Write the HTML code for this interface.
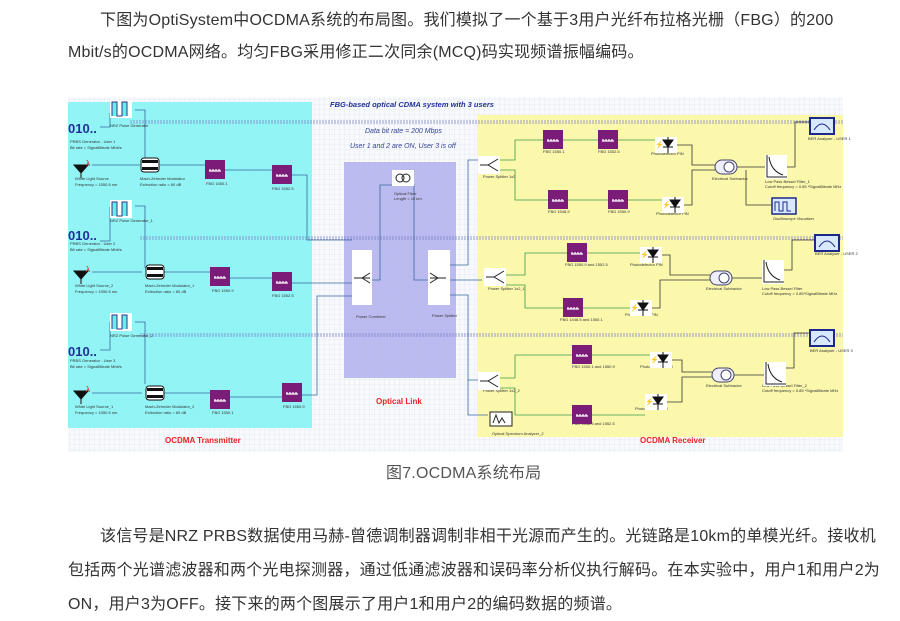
<!DOCTYPE html>
<html><head><meta charset="utf-8">
<style>
body{margin:0;width:900px;height:621px;background:#fff;font-family:"Liberation Sans","Noto Sans CJK SC",sans-serif;color:#333;position:relative;overflow:hidden}
.t{position:absolute;font-size:16px;white-space:nowrap;letter-spacing:0.2px}
svg{position:absolute;left:0;top:0}
</style></head><body>
<div class="t" style="left:100px;top:6px">下图为OptiSystem中OCDMA系统的布局图。我们模拟了一个基于3用户光纤布拉格光栅（FBG）的200</div>
<div class="t" style="left:68px;top:38px">Mbit/s的OCDMA网络。均匀FBG采用修正二次同余(MCQ)码实现频谱振幅编码。</div>
<div class="t" style="left:386px;top:459px;font-size:16px;color:#555">图7.OCDMA系统布局</div>
<div class="t" style="left:100px;top:522px">该信号是NRZ PRBS数据使用马赫-曾德调制器调制非相干光源而产生的。光链路是10km的单模光纤。接收机</div>
<div class="t" style="left:68px;top:556px">包括两个光谱滤波器和两个光电探测器，通过低通滤波器和误码率分析仪执行解码。在本实验中，用户1和用户2为</div>
<div class="t" style="left:68px;top:590px">ON，用户3为OFF。接下来的两个图展示了用户1和用户2的编码数据的频谱。</div>
<svg width="900" height="621" viewBox="0 0 900 621" font-family="Liberation Sans, sans-serif">
<defs>
<pattern id="g" width="5" height="5" patternUnits="userSpaceOnUse"><path d="M5 0V5H0" fill="none" stroke="#dde3ea" stroke-width="0.6"/></pattern>
<g id="fbg"><rect width="20" height="19" fill="#7a1c78"/><path d="M4 11h12M5 9v2M8 9v2M11 9v2M14 9v2" stroke="#fff" stroke-width="1.2"/></g>
<g id="pd"><rect width="22" height="16" fill="#fff"/><path d="M8 3h10l-5 7z M8 10h10 M13 0v16" fill="#111" stroke="#111"/><text x="0" y="10" font-size="7" fill="#d22">⚡</text></g>
<g id="sub"><rect width="22" height="14" rx="7" fill="#eef" stroke="#446"/><circle cx="14" cy="7" r="5" fill="#fff" stroke="#446"/></g>
<g id="lpf"><rect width="22" height="24" fill="#fff"/><path d="M2 0v22h20 M4 2q2 14 14 18" fill="none" stroke="#222"/></g>
<g id="ber"><rect width="24" height="16" fill="#d8e8ff" stroke="#1b2a8a" stroke-width="2"/><path d="M4 12q8-12 16 0" fill="none" stroke="#1b2a8a"/></g>
<g id="nrz"><rect width="22" height="18" fill="#fff"/><path d="M2 16V2h5v14h5V2h5v14" fill="#6ee" stroke="#338"/></g>
<g id="mzm"><rect width="18" height="14" rx="3" fill="#fff" stroke="#111"/><rect x="1" y="2" width="16" height="3" fill="#111"/><rect x="1" y="9" width="16" height="3" fill="#111"/></g>
<g id="src"><path d="M0 5h14l-7 8z M7 13v5" fill="#111" stroke="#111"/><text x="12" y="6" font-size="8" fill="#d22">λ</text></g>
</defs>
<rect x="68" y="97" width="775" height="355" fill="#f7f9fc"/>
<rect x="68" y="97" width="775" height="355" fill="url(#g)"/>
<rect x="68" y="102" width="244" height="326" fill="#80f3f3" opacity="0.85"/>
<rect x="344" y="162" width="112" height="216" fill="#b4b4ee" opacity="0.9"/>
<rect x="477" y="115" width="366" height="322" fill="#fbf8a8" opacity="0.95"/>
<g stroke="#7a7fc8" stroke-dasharray="2,1" stroke-width="0.8">
<line x1="130" y1="121" x2="843" y2="121"/><line x1="130" y1="123" x2="843" y2="123"/>
<line x1="140" y1="237" x2="843" y2="237"/><line x1="140" y1="239" x2="843" y2="239"/>
<line x1="140" y1="334" x2="843" y2="334"/><line x1="140" y1="336" x2="843" y2="336"/>
</g>
<text x="330" y="107" font-size="7.5" font-weight="bold" font-style="italic" fill="#22309a">FBG-based optical CDMA system with 3 users</text>
<text x="365" y="133" font-size="7" font-style="italic" fill="#33449a">Data bit rate = 200 Mbps</text>
<text x="350" y="148" font-size="7" font-style="italic" fill="#33449a">User 1 and 2 are ON, User 3 is off</text>
<text x="165" y="443" font-size="8" font-weight="bold" fill="#e22">OCDMA Transmitter</text>
<text x="376" y="404" font-size="8" font-weight="bold" fill="#e22">Optical Link</text>
<text x="640" y="443" font-size="8" font-weight="bold" fill="#e22">OCDMA Receiver</text>
<g fill="none" stroke="#3a6aa0" stroke-width="0.8">
<path d="M100 127h10V113M100 241h10V207M100 350h10V322"/>
<path d="M135 110h10v50M135 206h10v62M135 322h10v62"/>
<path d="M92 165h48M160 165h45M225 170h47M292 175h15v65h45"/>
<path d="M92 272h50M160 272h50M230 278h42M292 283h60"/>
<path d="M92 393h50M160 393h50M230 397h52M302 395h15V296h35"/>
<path d="M372 280h8v-95h22M402 185h12v95h14"/>
<path d="M450 265h18V160h12M450 280h32M450 295h18v85h12M468 380v35h20"/>
</g>
<g fill="none" stroke="#3c9a4a" stroke-width="0.8">
<path d="M500 160h15v-20h28M563 140h35M618 140h37M500 170h15v30h33M568 200h40M628 200h34"/>
<path d="M505 275h20v-22h42M587 253h53M505 285h20v23h38M583 308h47"/>
<path d="M500 378h15v-23h57M592 355h58M500 388h15v27h57M592 415h53"/>
</g>
<g fill="none" stroke="#333" stroke-width="0.8">
<path d="M677 145h15v20h23M684 205h8v-35h23M737 167h28M787 167h8v-45h15M746 170v35h29"/>
<path d="M662 255h8v20h40M652 308h8v-28h50M732 278h30M784 270h8v-30h23"/>
<path d="M672 360h10v12h30M667 402h15v-25h30M734 375h30M786 368h8v-35h16"/>
</g>
<g font-size="13" font-weight="bold" fill="#22309a"><text x="68" y="133">010..</text><text x="68" y="240">010..</text><text x="68" y="356">010..</text></g>
<use href="#nrz" x="110" y="100"/><use href="#nrz" x="110" y="200"/><use href="#nrz" x="110" y="313"/>
<use href="#src" x="74" y="160"/><use href="#src" x="74" y="266"/><use href="#src" x="74" y="386"/>
<use href="#mzm" x="141" y="158"/><use href="#mzm" x="146" y="265"/><use href="#mzm" x="146" y="386"/>
<use href="#fbg" x="205" y="160"/><use href="#fbg" x="210" y="267"/><use href="#fbg" x="210" y="390"/>
<use href="#fbg" x="272" y="165"/><use href="#fbg" x="272" y="272"/><use href="#fbg" x="282" y="383"/>
<g font-size="4" fill="#333">
<text x="70" y="143">PRBS Generator - User 1</text><text x="70" y="149">Bit rate = SignalBitrate Mbit/s</text>
<text x="70" y="245">PRBS Generator - User 2</text><text x="70" y="251">Bit rate = SignalBitrate Mbit/s</text>
<text x="70" y="362">PRBS Generator - User 3</text><text x="70" y="368">Bit rate = SignalBitrate Mbit/s</text>
<text x="75" y="180">White Light Source</text><text x="75" y="186">Frequency = 1550.5 nm</text>
<text x="75" y="287">White Light Source_2</text><text x="75" y="293">Frequency = 1550.5 nm</text>
<text x="75" y="408">White Light Source_1</text><text x="75" y="414">Frequency = 1550.5 nm</text>
<text x="140" y="180">Mach-Zehnder Modulator</text><text x="140" y="186">Extinction ratio = 60 dB</text>
<text x="145" y="287">Mach-Zehnder Modulator_1</text><text x="145" y="293">Extinction ratio = 60 dB</text>
<text x="145" y="408">Mach-Zehnder Modulator_2</text><text x="145" y="414">Extinction ratio = 60 dB</text>
<text x="110" y="127">NRZ Pulse Generator</text><text x="110" y="222">NRZ Pulse Generator_1</text><text x="110" y="337">NRZ Pulse Generator_2</text>
<text x="206" y="185">FBG 1550.1</text><text x="272" y="190">FBG 1552.5</text><text x="212" y="292">FBG 1550.9</text><text x="272" y="297">FBG 1552.5</text><text x="212" y="414">FBG 1550.1</text><text x="283" y="408">FBG 1550.9</text>
<text x="356" y="318">Power Combiner</text><text x="432" y="317">Power Splitter</text>
<text x="394" y="195">Optical Fiber</text><text x="394" y="200">Length = 10 km</text>
<text x="483" y="178">Power Splitter 1x2</text><text x="488" y="290">Power Splitter 1x2_1</text><text x="483" y="392">Power Splitter 1x2_2</text>
<text x="543" y="153">FBG 1550.1</text><text x="598" y="153">FBG 1552.5</text><text x="548" y="213">FBG 1548.9</text><text x="608" y="213">FBG 1550.9</text>
<text x="651" y="155">Photodetector PIN</text><text x="656" y="215">Photodetector PIN</text>
<text x="712" y="180">Electrical Subtractor</text><text x="765" y="183">Low Pass Bessel Filter_1</text><text x="765" y="188">Cutoff frequency = 0.85 *SignalBitrate MHz</text>
<text x="808" y="140">BER Analyser - USER 1</text><text x="773" y="220">Oscilloscope Visualizer</text>
<text x="565" y="266">FBG 1550.9 and 1552.5</text><text x="560" y="321">FBG 1448.5 and 1550.1</text>
<text x="630" y="266">Photodetector PIN</text><text x="625" y="316">Photodetector PIN</text>
<text x="706" y="290">Electrical Subtractor</text><text x="762" y="290">Low Pass Bessel Filter</text><text x="762" y="295">Cutoff frequency = 0.85*SignalBitrate MHz</text><text x="815" y="255">BER Analyser - USER 2</text>
<text x="572" y="368">FBG 1550.1 and 1550.9</text><text x="572" y="425">FBG 1548.5 and 1552.5</text>
<text x="640" y="368">Photodetector PIN</text><text x="635" y="410">Photodetector PIN</text>
<text x="706" y="387">Electrical Subtractor</text><text x="762" y="387">Low Pass Bessel Filter_2</text><text x="762" y="392">Cutoff frequency = 0.85 *SignalBitrate MHz</text><text x="810" y="352">BER Analyser - USER 3</text>
<text x="492" y="435">Optical Spectrum Analyzer_2</text>
</g>
<rect x="352" y="250" width="20" height="55" fill="#fff"/><path d="M354 278h8l8-5M362 278l8 0M362 278l8 5" stroke="#222" fill="none"/>
<rect x="428" y="250" width="22" height="55" fill="#fff"/><path d="M446 278h-8l-8-5M438 278h-8M438 278l-8 5" stroke="#222" fill="none"/>
<rect x="392" y="170" width="22" height="16" fill="#fff"/><circle cx="400" cy="178" r="4" fill="none" stroke="#222"/><circle cx="406" cy="178" r="4" fill="none" stroke="#222"/>
<g stroke="#222" fill="#fff"><rect x="478" y="156" width="22" height="18" stroke="none"/><path d="M480 165h8l10-6M488 165l10 6" fill="none"/>
<rect x="484" y="268" width="22" height="18" stroke="none"/><path d="M486 277h8l10-6M494 277l10 6" fill="none"/>
<rect x="478" y="372" width="22" height="18" stroke="none"/><path d="M480 381h8l10-6M488 381l10 6" fill="none"/></g>
<use href="#fbg" x="543" y="130"/><use href="#fbg" x="598" y="130"/><use href="#fbg" x="548" y="190"/><use href="#fbg" x="608" y="190"/>
<use href="#fbg" x="567" y="243"/><use href="#fbg" x="563" y="298"/><use href="#fbg" x="572" y="345"/><use href="#fbg" x="572" y="405"/>
<use href="#pd" x="655" y="137"/><use href="#pd" x="662" y="197"/><use href="#pd" x="640" y="247"/><use href="#pd" x="630" y="300"/><use href="#pd" x="650" y="352"/><use href="#pd" x="645" y="394"/>
<use href="#sub" x="715" y="160"/><use href="#sub" x="710" y="271"/><use href="#sub" x="712" y="368"/>
<use href="#lpf" x="765" y="155"/><use href="#lpf" x="762" y="260"/><use href="#lpf" x="764" y="362"/>
<use href="#ber" x="810" y="118"/><use href="#ber" x="815" y="235"/><use href="#ber" x="810" y="330"/>
<rect x="772" y="198" width="24" height="16" fill="#d8e8ff" stroke="#1b2a8a" stroke-width="1.5"/><path d="M775 211v-9h4v9h4v-9h4v9h4" fill="none" stroke="#1b2a8a"/>
<rect x="490" y="412" width="22" height="14" fill="#fff" stroke="#222"/><path d="M493 423l3-8l3 8l3-5l3 5" fill="none" stroke="#222"/>
</svg>
</body></html>
